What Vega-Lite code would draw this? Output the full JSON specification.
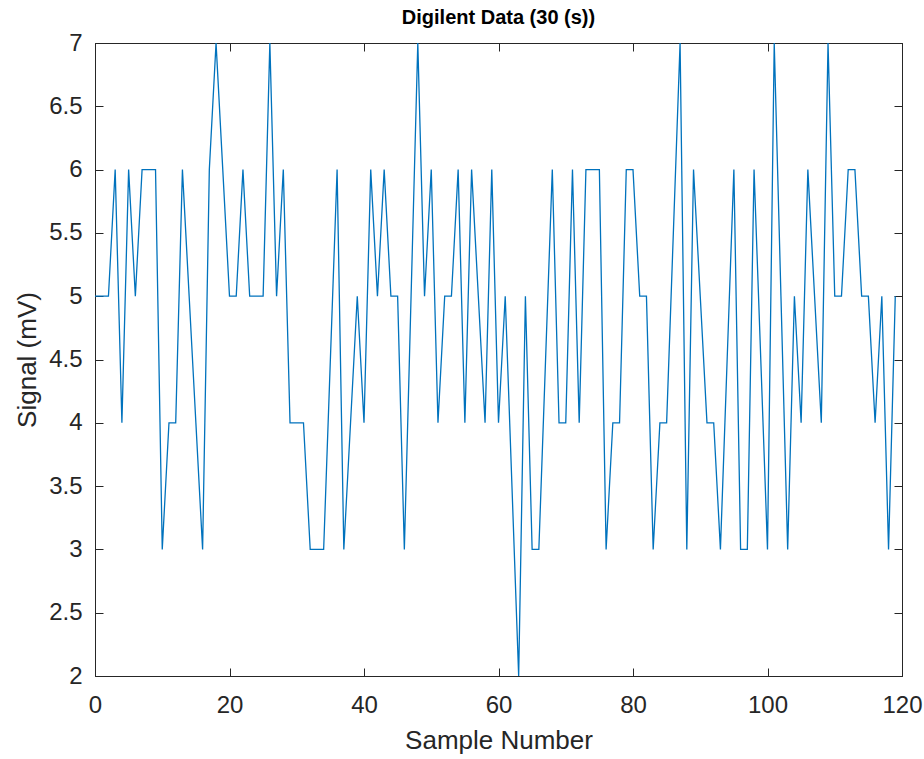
{
  "$schema": "https://vega.github.io/schema/vega-lite/v6.json",
  "width": 807,
  "height": 633,
  "autosize": {"type": "none"},
  "padding": {"left": 95, "top": 43, "right": 22, "bottom": 83},
  "background": "white",
  "title": {
    "text": "Digilent Data (30 (s))",
    "font": "Liberation Sans",
    "fontSize": 20,
    "fontWeight": "bold",
    "color": "#000000",
    "offset": 3,
    "anchor": "middle"
  },
  "config": {
    "view": {"stroke": "#262626", "strokeWidth": 1},
    "axis": {
      "labelFont": "Liberation Sans",
      "titleFont": "Liberation Sans",
      "labelFontSize": 24,
      "titleFontSize": 26,
      "labelColor": "#262626",
      "titleColor": "#262626",
      "domainColor": "#262626",
      "tickColor": "#262626",
      "titleFontWeight": "normal",
      "labelFlush": false,
      "labelOverlap": false,
      "grid": false
    }
  },
  "data": {
    "values": [
      {"sample": 0, "signal": 5}, {"sample": 1, "signal": 5}, {"sample": 2, "signal": 5}, {"sample": 3, "signal": 6},
      {"sample": 4, "signal": 4}, {"sample": 5, "signal": 6}, {"sample": 6, "signal": 5}, {"sample": 7, "signal": 6},
      {"sample": 8, "signal": 6}, {"sample": 9, "signal": 6}, {"sample": 10, "signal": 3}, {"sample": 11, "signal": 4},
      {"sample": 12, "signal": 4}, {"sample": 13, "signal": 6}, {"sample": 14, "signal": 5}, {"sample": 15, "signal": 4},
      {"sample": 16, "signal": 3}, {"sample": 17, "signal": 6}, {"sample": 18, "signal": 7}, {"sample": 19, "signal": 6},
      {"sample": 20, "signal": 5}, {"sample": 21, "signal": 5}, {"sample": 22, "signal": 6}, {"sample": 23, "signal": 5},
      {"sample": 24, "signal": 5}, {"sample": 25, "signal": 5}, {"sample": 26, "signal": 7}, {"sample": 27, "signal": 5},
      {"sample": 28, "signal": 6}, {"sample": 29, "signal": 4}, {"sample": 30, "signal": 4}, {"sample": 31, "signal": 4},
      {"sample": 32, "signal": 3}, {"sample": 33, "signal": 3}, {"sample": 34, "signal": 3}, {"sample": 35, "signal": 4.5},
      {"sample": 36, "signal": 6}, {"sample": 37, "signal": 3}, {"sample": 38, "signal": 4}, {"sample": 39, "signal": 5},
      {"sample": 40, "signal": 4}, {"sample": 41, "signal": 6}, {"sample": 42, "signal": 5}, {"sample": 43, "signal": 6},
      {"sample": 44, "signal": 5}, {"sample": 45, "signal": 5}, {"sample": 46, "signal": 3}, {"sample": 47, "signal": 5},
      {"sample": 48, "signal": 7}, {"sample": 49, "signal": 5}, {"sample": 50, "signal": 6}, {"sample": 51, "signal": 4},
      {"sample": 52, "signal": 5}, {"sample": 53, "signal": 5}, {"sample": 54, "signal": 6}, {"sample": 55, "signal": 4},
      {"sample": 56, "signal": 6}, {"sample": 57, "signal": 5}, {"sample": 58, "signal": 4}, {"sample": 59, "signal": 6},
      {"sample": 60, "signal": 4}, {"sample": 61, "signal": 5}, {"sample": 62, "signal": 3.5}, {"sample": 63, "signal": 2},
      {"sample": 64, "signal": 5}, {"sample": 65, "signal": 3}, {"sample": 66, "signal": 3}, {"sample": 67, "signal": 4.5},
      {"sample": 68, "signal": 6}, {"sample": 69, "signal": 4}, {"sample": 70, "signal": 4}, {"sample": 71, "signal": 6},
      {"sample": 72, "signal": 4}, {"sample": 73, "signal": 6}, {"sample": 74, "signal": 6}, {"sample": 75, "signal": 6},
      {"sample": 76, "signal": 3}, {"sample": 77, "signal": 4}, {"sample": 78, "signal": 4}, {"sample": 79, "signal": 6},
      {"sample": 80, "signal": 6}, {"sample": 81, "signal": 5}, {"sample": 82, "signal": 5}, {"sample": 83, "signal": 3},
      {"sample": 84, "signal": 4}, {"sample": 85, "signal": 4}, {"sample": 86, "signal": 5.5}, {"sample": 87, "signal": 7},
      {"sample": 88, "signal": 3}, {"sample": 89, "signal": 6}, {"sample": 90, "signal": 5}, {"sample": 91, "signal": 4},
      {"sample": 92, "signal": 4}, {"sample": 93, "signal": 3}, {"sample": 94, "signal": 4.5}, {"sample": 95, "signal": 6},
      {"sample": 96, "signal": 3}, {"sample": 97, "signal": 3}, {"sample": 98, "signal": 6}, {"sample": 99, "signal": 4.5},
      {"sample": 100, "signal": 3}, {"sample": 101, "signal": 7}, {"sample": 102, "signal": 5}, {"sample": 103, "signal": 3},
      {"sample": 104, "signal": 5}, {"sample": 105, "signal": 4}, {"sample": 106, "signal": 6}, {"sample": 107, "signal": 5},
      {"sample": 108, "signal": 4}, {"sample": 109, "signal": 7}, {"sample": 110, "signal": 5}, {"sample": 111, "signal": 5},
      {"sample": 112, "signal": 6}, {"sample": 113, "signal": 6}, {"sample": 114, "signal": 5}, {"sample": 115, "signal": 5},
      {"sample": 116, "signal": 4}, {"sample": 117, "signal": 5}, {"sample": 118, "signal": 3}, {"sample": 119, "signal": 5}
    ]
  },
  "layer": [
    {
      "mark": {"type": "line", "color": "#0072BD", "strokeWidth": 1.3, "clip": true},
      "encoding": {
        "x": {
          "field": "sample", "type": "quantitative",
          "scale": {"domain": [0, 120], "nice": false, "zero": false},
          "axis": {"title": "Sample Number", "values": [0, 20, 40, 60, 80, 100, 120], "tickSize": -8, "labelPadding": 25, "titlePadding": 10}
        },
        "y": {
          "field": "signal", "type": "quantitative",
          "scale": {"domain": [2, 7], "nice": false, "zero": false},
          "axis": {"title": "Signal (mV)", "values": [2, 2.5, 3, 3.5, 4, 4.5, 5, 5.5, 6, 6.5, 7], "format": "~g", "tickSize": -8, "labelPadding": 21, "titlePadding": 8}
        }
      }
    },
    {
      "mark": {"type": "line", "opacity": 0},
      "encoding": {
        "x": {
          "field": "sample", "type": "quantitative",
          "axis": {"orient": "top", "title": null, "labels": false, "values": [0, 20, 40, 60, 80, 100, 120], "tickSize": -8}
        },
        "y": {
          "field": "signal", "type": "quantitative",
          "axis": {"orient": "right", "title": null, "labels": false, "values": [2, 2.5, 3, 3.5, 4, 4.5, 5, 5.5, 6, 6.5, 7], "tickSize": -8}
        }
      }
    }
  ],
  "resolve": {"axis": {"x": "independent", "y": "independent"}}
}
